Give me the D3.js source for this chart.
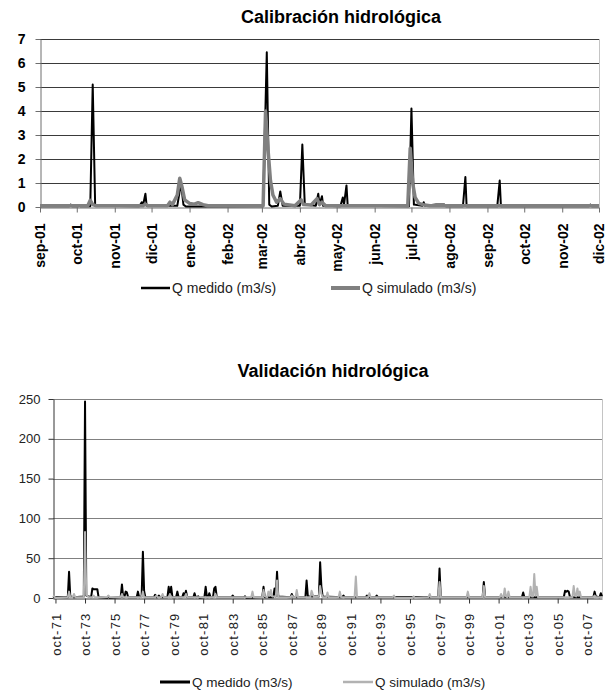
<!DOCTYPE html>
<html>
<head>
<meta charset="utf-8">
<script src="https://cdn.jsdelivr.net/npm/d3@7"></script>
<style>
  html, body { margin: 0; padding: 0; background: #fff; }
  svg { display: block; font-family: Arial, 'Liberation Sans', sans-serif; }
</style>
</head>
<body>
<svg id="chart" width="614" height="693"></svg>
<script>
/* ---------------------------- Calibración data ---------------------------- */
const calTickMonths = ['2001-09', '2001-10', '2001-11', '2001-12', '2002-01', '2002-02', '2002-03', '2002-04',
  '2002-05', '2002-06', '2002-07', '2002-08', '2002-09', '2002-10', '2002-11', '2002-12'];
const calTickLabels = ['sep-01', 'oct-01', 'nov-01', 'dic-01', 'ene-02', 'feb-02', 'mar-02', 'abr-02',
  'may-02', 'jun-02', 'jul-02', 'ago-02', 'sep-02', 'oct-02', 'nov-02', 'dic-02'];
const calYTicks = [0, 1, 2, 3, 4, 5, 6, 7];

// daily flow, only the days where the hydrograph changes
const calMedido = [
  ['2001-09-01', 0.03], ['2001-09-25', 0.03], ['2001-09-26', 0.1], ['2001-09-27', 0.03],
  ['2001-10-02', 0.03], ['2001-10-03', 0.08], ['2001-10-04', 0.03],
  ['2001-10-12', 0.03], ['2001-10-14', 5.1], ['2001-10-16', 0.05],
  ['2001-11-21', 0.03], ['2001-11-23', 0.2], ['2001-11-24', 0.05], ['2001-11-26', 0.55], ['2001-11-27', 0.05],
  ['2001-12-22', 0.05], ['2001-12-25', 1.0], ['2001-12-27', 0.1], ['2001-12-29', 0.02],
  ['2002-01-12', 0.02], ['2002-03-02', 0.03], ['2002-03-05', 6.45], ['2002-03-07', 0.1], ['2002-03-09', 0.02],
  ['2002-03-14', 0.05], ['2002-03-16', 0.65], ['2002-03-18', 0.05],
  ['2002-04-01', 0.05], ['2002-04-03', 2.6], ['2002-04-05', 0.1],
  ['2002-04-14', 0.05], ['2002-04-16', 0.55], ['2002-04-17', 0.1], ['2002-04-19', 0.45], ['2002-04-20', 0.05],
  ['2002-05-04', 0.03], ['2002-05-06', 0.4], ['2002-05-07', 0.1], ['2002-05-09', 0.9], ['2002-05-10', 0.05],
  ['2002-06-29', 0.03], ['2002-07-01', 4.1], ['2002-07-03', 0.1],
  ['2002-07-10', 0.05], ['2002-07-11', 0.2], ['2002-07-12', 0.05],
  ['2002-07-21', 0.1], ['2002-07-28', 0.1], ['2002-07-29', 0.03],
  ['2002-08-12', 0.03], ['2002-08-14', 1.25], ['2002-08-15', 0.03],
  ['2002-09-09', 0.03], ['2002-09-11', 1.1], ['2002-09-12', 0.03],
  ['2002-11-23', 0.03], ['2002-11-24', 0.1], ['2002-11-25', 0.03], ['2002-12-01', 0.03]
];
const calSimulado = [
  ['2001-09-01', 0.05], ['2001-10-10', 0.05], ['2001-10-12', 0.28], ['2001-10-14', 0.1], ['2001-10-17', 0.05],
  ['2001-11-24', 0.05], ['2001-11-26', 0.12], ['2001-11-28', 0.05],
  ['2001-12-14', 0.05], ['2001-12-16', 0.2], ['2001-12-18', 0.1], ['2001-12-22', 0.5], ['2001-12-24', 1.2],
  ['2001-12-26', 0.8], ['2001-12-28', 0.3], ['2002-01-01', 0.15], ['2002-01-05', 0.12], ['2002-01-08', 0.18],
  ['2002-01-12', 0.1], ['2002-01-16', 0.05],
  ['2002-03-02', 0.05], ['2002-03-04', 4.0], ['2002-03-06', 2.4], ['2002-03-08', 1.1], ['2002-03-10', 0.5],
  ['2002-03-13', 0.2], ['2002-03-16', 0.35], ['2002-03-19', 0.12], ['2002-03-28', 0.05],
  ['2002-04-02', 0.3], ['2002-04-04', 0.1], ['2002-04-10', 0.08], ['2002-04-15', 0.35], ['2002-04-17', 0.1],
  ['2002-04-19', 0.2], ['2002-04-22', 0.05],
  ['2002-06-28', 0.05], ['2002-06-30', 2.45], ['2002-07-02', 1.0], ['2002-07-04', 0.4], ['2002-07-07', 0.15],
  ['2002-07-12', 0.08], ['2002-07-16', 0.05], ['2002-12-01', 0.05]
];

/* ---------------------------- Validación data ----------------------------- */
const valTickMonths = ['1971-10', '1973-10', '1975-10', '1977-10', '1979-10', '1981-10', '1983-10', '1985-10',
  '1987-10', '1989-10', '1991-10', '1993-10', '1995-10', '1997-10', '1999-10', '2001-10', '2003-10',
  '2005-10', '2007-10'];
const valTickLabels = ['oct-71', 'oct-73', 'oct-75', 'oct-77', 'oct-79', 'oct-81', 'oct-83', 'oct-85',
  'oct-87', 'oct-89', 'oct-91', 'oct-93', 'oct-95', 'oct-97', 'oct-99', 'oct-01', 'oct-03',
  'oct-05', 'oct-07'];
const valYTicks = [0, 50, 100, 150, 200, 250];

// monthly flow, only the months that differ from the base flow
const valMedido = [
  ['1971-08', 2], ['1971-10', 1], ['1972-08', 1], ['1972-09', 33], ['1972-10', 2], ['1973-01', 1],
  ['1973-09', 2], ['1973-10', 247], ['1973-11', 3], ['1974-03', 1], ['1974-04', 12], ['1974-05', 11],
  ['1974-06', 11], ['1974-07', 11], ['1974-08', 11], ['1974-09', 1], ['1975-04', 0], ['1975-05', 2],
  ['1975-06', 0], ['1976-03', 1], ['1976-04', 17], ['1976-05', 1], ['1976-06', 1], ['1976-07', 8],
  ['1976-08', 7], ['1976-09', 1], ['1977-04', 1], ['1977-05', 8], ['1977-06', 1], ['1977-08', 2],
  ['1977-09', 58], ['1977-10', 9], ['1977-11', 1], ['1978-06', 1], ['1978-07', 4], ['1978-08', 1],
  ['1978-09', 1], ['1978-10', 3], ['1978-11', 1], ['1979-05', 1], ['1979-06', 14], ['1979-07', 2],
  ['1979-08', 14], ['1979-09', 1], ['1979-12', 1], ['1980-01', 8], ['1980-02', 1], ['1980-05', 1],
  ['1980-06', 6], ['1980-07', 2], ['1980-08', 9], ['1980-09', 1], ['1981-02', 1], ['1981-03', 6],
  ['1981-04', 1], ['1981-05', 1], ['1981-06', 2], ['1981-07', 0], ['1981-11', 1], ['1981-12', 14],
  ['1982-01', 1], ['1982-02', 1], ['1982-03', 6], ['1982-04', 1], ['1982-06', 1], ['1982-07', 12],
  ['1982-08', 14], ['1982-09', 1], ['1983-09', 1], ['1983-10', 3], ['1983-11', 1], ['1984-07', 1],
  ['1984-08', 2], ['1984-09', 0], ['1985-10', 1], ['1985-11', 14], ['1985-12', 1], ['1986-07', 1],
  ['1986-08', 12], ['1986-09', 2], ['1986-10', 33], ['1986-11', 2], ['1987-09', 1], ['1987-10', 5],
  ['1987-11', 1], ['1988-09', 1], ['1988-10', 22], ['1988-11', 2], ['1989-08', 2], ['1989-09', 45],
  ['1989-10', 15], ['1989-11', 2], ['1991-03', 1], ['1991-04', 3], ['1991-05', 1], ['1992-10', 1],
  ['1992-11', 3], ['1992-12', 1], ['1993-06', 1], ['1993-07', 3], ['1993-08', 1], ['1997-09', 1],
  ['1997-10', 37], ['1997-11', 1], ['2000-09', 1], ['2000-10', 20], ['2000-11', 1], ['2003-05', 1],
  ['2003-06', 7], ['2003-07', 1], ['2006-03', 1], ['2006-04', 9], ['2006-05', 8], ['2006-06', 9],
  ['2006-07', 8], ['2006-08', 1], ['2008-03', 1], ['2008-04', 8], ['2008-05', 2], ['2008-08', 1],
  ['2008-09', 6], ['2008-10', 2]
];
const valSimulado = [
  ['1971-08', 3], ['1971-09', 2], ['1971-10', 0], ['1972-08', 1], ['1972-09', 8], ['1972-10', 1],
  ['1972-12', 1], ['1973-01', 5], ['1973-02', 1], ['1973-09', 1], ['1973-10', 83], ['1973-11', 4],
  ['1974-01', 1], ['1974-04', 1], ['1974-05', 3], ['1974-06', 1], ['1975-04', 1], ['1975-05', 3],
  ['1975-06', 1], ['1976-03', 1], ['1976-04', 5], ['1976-05', 1], ['1977-08', 1], ['1977-09', 8],
  ['1977-10', 1], ['1978-07', 1], ['1978-08', 3], ['1978-09', 1], ['1978-12', 1], ['1979-01', 5],
  ['1979-02', 1], ['1979-06', 1], ['1979-07', 5], ['1979-08', 1], ['1980-07', 1], ['1980-08', 5],
  ['1980-09', 1], ['1982-07', 1], ['1982-08', 5], ['1982-09', 1], ['1985-01', 1], ['1985-02', 8],
  ['1985-03', 1], ['1985-10', 1], ['1985-11', 10], ['1985-12', 2], ['1986-02', 1], ['1986-03', 8],
  ['1986-04', 3], ['1986-05', 10], ['1986-06', 2], ['1986-09', 2], ['1986-10', 22], ['1986-11', 1],
  ['1987-09', 1], ['1987-10', 3], ['1987-11', 1], ['1988-01', 1], ['1988-02', 10], ['1988-03', 1],
  ['1989-01', 1], ['1989-02', 9], ['1989-03', 5], ['1989-04', 1], ['1989-08', 2], ['1989-09', 15],
  ['1989-10', 6], ['1989-11', 1], ['1990-02', 1], ['1990-03', 7], ['1990-04', 1], ['1990-12', 1],
  ['1991-01', 8], ['1991-02', 1], ['1992-01', 1], ['1992-02', 27], ['1992-03', 1], ['1992-12', 1],
  ['1993-01', 6], ['1993-02', 1], ['1994-08', 1], ['1994-09', 3], ['1994-10', 0], ['1995-12', 0],
  ['1996-01', 2], ['1996-02', 0], ['1997-01', 1], ['1997-02', 5], ['1997-03', 1], ['1997-09', 1],
  ['1997-10', 20], ['1997-11', 1], ['1999-08', 1], ['1999-09', 8], ['1999-10', 1], ['2000-09', 1],
  ['2000-10', 15], ['2000-11', 1], ['2001-11', 1], ['2001-12', 5], ['2002-01', 1], ['2002-02', 1],
  ['2002-03', 12], ['2002-04', 2], ['2002-05', 1], ['2002-06', 8], ['2002-07', 1], ['2003-11', 1],
  ['2003-12', 14], ['2004-01', 2], ['2004-02', 2], ['2004-03', 30], ['2004-04', 3], ['2004-05', 14],
  ['2004-06', 1], ['2006-10', 1], ['2006-11', 15], ['2006-12', 3], ['2007-01', 2], ['2007-02', 12],
  ['2007-03', 3], ['2007-04', 8], ['2007-05', 1], ['2008-03', 1], ['2008-04', 3], ['2008-05', 1],
  ['2008-10', 1]
];

const seriesNames = ['Q medido (m3/s)', 'Q simulado (m3/s)'];

/* -------------------------------------------------------------------------- */
/*                                  Drawing                                   */
/* -------------------------------------------------------------------------- */
const parseDay = d3.timeParse('%Y-%m-%d');
const parseMonth = d3.timeParse('%Y-%m');

const svg = d3.select('#chart');

const drawPanel = (p) => {
  const g = svg.append('g');
  const [x0, x1] = p.x.range();
  const [yBottom, yTop] = p.y.range();

  svg.append('text')
    .attr('x', p.title.x)
    .attr('y', p.title.y)
    .attr('text-anchor', 'middle')
    .style('font-size', '18px')
    .style('font-weight', 'bold')
    .text(p.title.text);

  // horizontal gridlines
  g.selectAll('.grid')
    .data(p.yTicks.filter((v) => v > 0))
    .enter()
    .append('line')
    .attr('x1', x0)
    .attr('x2', x1)
    .attr('y1', (d) => Math.round(p.y(d)) + 0.5)
    .attr('y2', (d) => Math.round(p.y(d)) + 0.5)
    .attr('stroke', p.style.grid)
    .attr('stroke-width', 1);

  // right border of the plot area
  g.append('line')
    .attr('x1', x1 + 0.5)
    .attr('x2', x1 + 0.5)
    .attr('y1', yTop)
    .attr('y2', yBottom)
    .attr('stroke', '#c4c4c4');

  const yAxis = g.append('g')
    .attr('transform', `translate(${x0 + 0.5},0)`)
    .call(d3.axisLeft(p.y)
      .tickValues(p.yTicks)
      .tickFormat(d3.format('d'))
      .tickSize(5)
      .tickSizeOuter(0)
      .tickPadding(p.style.yPad));
  yAxis.select('.domain').attr('stroke', p.style.axis);
  yAxis.selectAll('.tick line').attr('stroke', p.style.axis);
  yAxis.selectAll('text')
    .style('font-size', p.style.yFont)
    .style('font-weight', p.style.weight)
    .attr('fill', p.style.text);

  const xAxis = g.append('g')
    .attr('transform', `translate(0,${yBottom + 0.5})`)
    .call(d3.axisBottom(p.x)
      .tickValues(p.xTicks.map(parseMonth))
      .tickFormat((d, i) => p.xLabels[i])
      .tickSize(5)
      .tickSizeOuter(0));
  xAxis.select('.domain').attr('stroke', p.style.axis);
  xAxis.selectAll('.tick line').attr('stroke', p.style.axis);
  xAxis.selectAll('text')
    .attr('transform', 'rotate(-90)')
    .attr('x', -p.style.xPad)
    .attr('y', 0)
    .attr('dy', '0.35em')
    .style('text-anchor', 'end')
    .style('font-size', p.style.xFont)
    .style('font-weight', p.style.weight)
    .style('letter-spacing', p.style.xSpacing)
    .attr('fill', p.style.text);

  const line = d3.line()
    .x((d) => p.x(p.parse(d[0])))
    .y((d) => p.y(d[1]));

  p.series.forEach((s) => {
    g.append('path')
      .datum(s.data)
      .attr('fill', 'none')
      .attr('stroke', s.color)
      .attr('stroke-width', s.width)
      .attr('stroke-linejoin', 'round')
      .attr('d', line);
  });

  // legend
  const legend = svg.append('g').attr('transform', `translate(0,${p.legend.y})`);
  p.series.forEach((s, i) => {
    const lx = p.legend.x[i];
    legend.append('line')
      .attr('x1', lx)
      .attr('x2', lx + p.legend.len)
      .attr('y1', 0)
      .attr('y2', 0)
      .attr('stroke', s.color)
      .attr('stroke-width', s.legendWidth);
    legend.append('text')
      .attr('x', lx + p.legend.len + 2)
      .attr('y', 0)
      .attr('dy', '0.35em')
      .style('font-size', p.legend.font)
      .attr('fill', '#222')
      .text(seriesNames[i]);
  });
};

// Calibración hidrológica
drawPanel({
  title: { text: 'Calibración hidrológica', x: 341, y: 23 },
  x: d3.scaleTime().domain([parseDay('2001-09-01'), parseDay('2002-12-01')]).range([40, 599]),
  y: d3.scaleLinear().domain([0, 7]).range([207, 39]),
  parse: parseDay,
  yTicks: calYTicks,
  xTicks: calTickMonths,
  xLabels: calTickLabels,
  series: [
    { data: calMedido, color: '#000', width: 2, legendWidth: 2.5 },
    { data: calSimulado, color: '#808080', width: 3.5, legendWidth: 4 }
  ],
  style: { grid: '#3a3a3a', axis: '#6e6e6e', text: '#000', weight: 'bold', yFont: '14px', xFont: '14px',
    yPad: 10, xPad: 16, xSpacing: '0px' },
  legend: { y: 288, x: [141, 331], len: 29, font: '14px' }
});

// Validación hidrológica
drawPanel({
  title: { text: 'Validación hidrológica', x: 333, y: 377 },
  x: d3.scaleTime().domain([parseMonth('1971-08'), parseMonth('2008-10')]).range([53, 602]),
  y: d3.scaleLinear().domain([0, 250]).range([598, 399]),
  parse: parseMonth,
  yTicks: valYTicks,
  xTicks: valTickMonths,
  xLabels: valTickLabels,
  series: [
    { data: valMedido, color: '#000', width: 2, legendWidth: 3 },
    { data: valSimulado, color: '#b2b2b2', width: 2, legendWidth: 2.5 }
  ],
  style: { grid: '#808080', axis: '#333', text: '#222', weight: 'normal', yFont: '13px', xFont: '13px',
    yPad: 8, xPad: 14, xSpacing: '1.2px' },
  legend: { y: 682, x: [160, 343], len: 30, font: '13.5px' }
});
</script>
</body>
</html>
